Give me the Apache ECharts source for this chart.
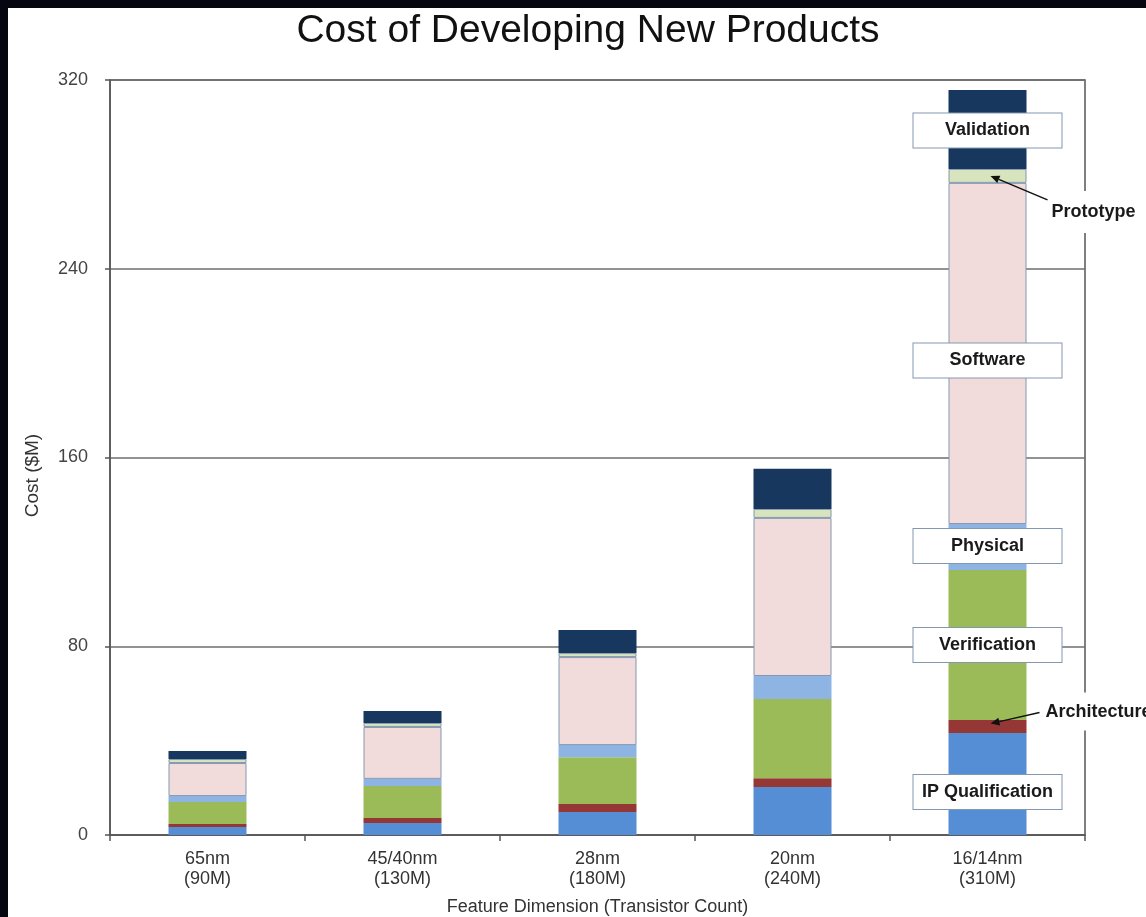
<!DOCTYPE html>
<html>
<head>
<meta charset="utf-8">
<script src="https://cdn.jsdelivr.net/npm/echarts@6/dist/echarts.min.js"></script>
<style>
  html, body { margin: 0; padding: 0; background: #05060f; width: 1146px; height: 917px; overflow: hidden; }
  #chart { position: absolute; left: 8px; top: 8px; width: 1138px; height: 909px; background: #ffffff; }
</style>
</head>
<body>
<div id="chart"></div>
<script>
// ---- Data (values in $M) ----
var categories = ['65nm\n(90M)', '45/40nm\n(130M)', '28nm\n(180M)', '20nm\n(240M)', '16/14nm\n(310M)'];
var ipQualification = [3.4, 5.1, 9.7, 20.3, 43.2];
var architecture    = [1.3, 2.1, 3.4, 3.8, 5.5];
var verification    = [9.3, 13.6, 19.9, 33.5, 63.6];
var physical        = [2.5, 3.0, 5.1, 9.8, 19.5];
var software        = [14.0, 22.0, 37.3, 67.0, 144.6];
var prototype       = [1.7, 1.7, 1.7, 3.8, 5.9];
var validation      = [3.4, 5.1, 9.8, 17.0, 33.5];
var yTicks = [0, 80, 160, 240, 320];

var FONT = "'Liberation Sans', Arial, sans-serif";
var chart = echarts.init(document.getElementById('chart'), null, { renderer: 'canvas' });

var boxLabel = function (text, offset) {
  return {
    show: true,
    position: 'inside',
    formatter: text,
    offset: offset || [0, 0],
    backgroundColor: '#ffffff',
    borderColor: '#8497b0',
    borderWidth: 1,
    width: 148,
    height: 20,
    lineHeight: 20,
    padding: [7, 0],
    align: 'center',
    color: '#1a1a1a',
    fontFamily: FONT,
    fontWeight: 'bold',
    fontSize: 18
  };
};

function mkSeries(name, values, color, labelText, labelOffset, border) {
  var data = values.map(function (v, i) {
    if (labelText && i === values.length - 1) {
      return { value: v, label: boxLabel(labelText, labelOffset) };
    }
    return v;
  });
  return {
    name: name,
    type: 'bar',
    stack: 'cost',
    barWidth: '40%',
    data: data,
    itemStyle: {
      color: color,
      borderColor: border ? '#8497b0' : color,
      borderWidth: border ? 1 : 0
    },
    emphasis: { disabled: true },
    label: { show: false }
  };
}

var option = {
  animation: false,
  backgroundColor: '#ffffff',
  title: {
    text: 'Cost of Developing New Products',
    left: 580,
    textAlign: 'center',
    top: 4,
    padding: 0,
    textStyle: { fontFamily: FONT, fontSize: 39, fontWeight: 'normal', color: '#111111' }
  },
  grid: {
    left: 102, right: 61, top: 72, bottom: 82,
    outerBoundsMode: 'none',
    containLabel: false,
    show: true, borderColor: '#555555', borderWidth: 1.5, backgroundColor: 'transparent'
  },
  xAxis: {
    type: 'category',
    data: categories,
    axisLine: { lineStyle: { color: '#555555', width: 1.5 } },
    axisTick: { show: true, length: 6, lineStyle: { color: '#555555', width: 1.5 } },
    axisLabel: { fontFamily: FONT, fontSize: 18, lineHeight: 20, color: '#333333', margin: 14 },
    name: 'Feature Dimension (Transistor Count)',
    nameLocation: 'middle',
    nameGap: 63,
    nameTextStyle: { fontFamily: FONT, fontSize: 18, color: '#333333' }
  },
  yAxis: {
    type: 'value',
    min: yTicks[0],
    max: yTicks[yTicks.length - 1],
    interval: yTicks[1] - yTicks[0],
    axisLine: { show: true, lineStyle: { color: '#555555', width: 1.5 } },
    axisTick: { show: true, length: 5, lineStyle: { color: '#555555', width: 1.5 } },
    axisLabel: { fontFamily: FONT, fontSize: 18, color: '#444444', margin: 22 },
    splitLine: { show: true, lineStyle: { color: '#6e6e6e', width: 1.5 } },
    name: 'Cost ($M)',
    nameLocation: 'middle',
    nameGap: 68,
    nameTextStyle: { fontFamily: FONT, fontSize: 19, color: '#333333', padding: [0, 36, 0, 0] }
  },
  series: [
    mkSeries('IP Qualification', ipQualification, '#558ed5', 'IP Qualification', [0, 8]),
    mkSeries('Architecture', architecture, '#953735'),
    mkSeries('Verification', verification, '#9bbb59', 'Verification'),
    mkSeries('Physical', physical, '#8eb4e3', 'Physical', [0, -1]),
    mkSeries('Software', software, '#f2dcdb', 'Software', [0, 7], true),
    mkSeries('Prototype', prototype, '#d7e4bd', null, null, true),
    mkSeries('Validation', validation, '#17375e', 'Validation', [0, 1])
  ]
};
chart.setOption(option);

// ---- Arrow annotations, positioned via the chart's own scales ----
function cum(idx, arrays) {
  var s = 0;
  for (var k = 0; k < arrays.length; k++) s += arrays[k][idx];
  return s;
}
var last = categories.length - 1;
var protoMid = cum(last, [ipQualification, architecture, verification, physical, software]) + prototype[last] / 2;
var archMid = ipQualification[last] + architecture[last] / 2;
var pProto = chart.convertToPixel({ xAxisIndex: 0, yAxisIndex: 0 }, [last, protoMid]);
var pArch = chart.convertToPixel({ xAxisIndex: 0, yAxisIndex: 0 }, [last, archMid]);

function arrow(tail, tip) {
  var dx = tip[0] - tail[0], dy = tip[1] - tail[1];
  var len = Math.sqrt(dx * dx + dy * dy);
  var ux = dx / len, uy = dy / len;
  var hl = 9, hw = 4;
  var bx = tip[0] - ux * hl, by = tip[1] - uy * hl;
  return [
    { type: 'line', z: 100, shape: { x1: tail[0], y1: tail[1], x2: bx, y2: by }, style: { stroke: '#111111', lineWidth: 1.5 } },
    { type: 'polygon', z: 100, shape: { points: [[tip[0], tip[1]], [bx - uy * hw, by + ux * hw], [bx + uy * hw, by - ux * hw]] }, style: { fill: '#111111' } }
  ];
}

var graphics = [];
graphics.push({
  type: 'text', z: 99, x: pProto[0] + 60, y: pProto[1] + 36,
  style: { text: 'Prototype', fontFamily: FONT, fontWeight: 'bold', fontSize: 18, fill: '#1a1a1a', verticalAlign: 'middle', align: 'left', backgroundColor: '#ffffff', padding: [12, 4] }
});
graphics = graphics.concat(arrow([pProto[0] + 60, pProto[1] + 24], [pProto[0] + 3, pProto[1]]));
graphics.push({
  type: 'text', z: 99, x: pArch[0] + 54, y: pArch[1] - 15,
  style: { text: 'Architecture', fontFamily: FONT, fontWeight: 'bold', fontSize: 18, fill: '#1a1a1a', verticalAlign: 'middle', align: 'left', backgroundColor: '#ffffff', padding: [10, 4] }
});
graphics = graphics.concat(arrow([pArch[0] + 52, pArch[1] - 14], [pArch[0] + 3, pArch[1] - 3]));
chart.setOption({ graphic: graphics });
</script>
</body>
</html>
